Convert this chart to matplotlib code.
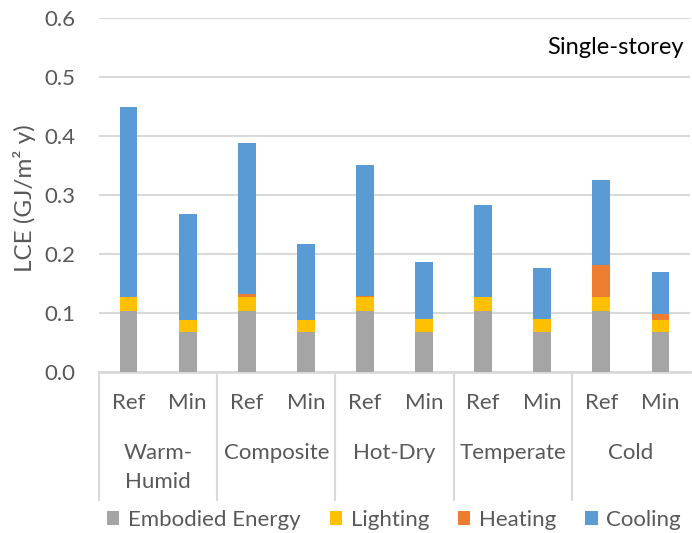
import numpy as np
import matplotlib.pyplot as plt
from matplotlib.transforms import blended_transform_factory

plt.rcParams['font.family'] = ['Lato', 'DejaVu Sans']

climates = ['Warm-\nHumid', 'Composite', 'Hot-Dry', 'Temperate', 'Cold']
cases = ['Ref', 'Min']

# values, order: WH Ref, WH Min, Comp Ref, Comp Min, ...
embodied = [0.103, 0.068, 0.103, 0.068, 0.103, 0.068, 0.103, 0.068, 0.103, 0.068]
lighting = [0.024, 0.020, 0.024, 0.020, 0.024, 0.021, 0.024, 0.021, 0.024, 0.020]
heating  = [0.000, 0.000, 0.005, 0.000, 0.002, 0.000, 0.000, 0.000, 0.055, 0.010]
cooling  = [0.322, 0.179, 0.256, 0.129, 0.222, 0.098, 0.156, 0.087, 0.143, 0.071]

series = [('Embodied Energy', embodied, '#A5A5A5'),
          ('Lighting', lighting, '#FFC000'),
          ('Heating', heating, '#ED7D31'),
          ('Cooling', cooling, '#5B9BD5')]

txt = '#595959'
grid = '#D9D9D9'
fs = 16

fig = plt.figure(figsize=(6.92, 5.33), dpi=100)
ax = fig.add_axes([99/692, 161/533, 591/692, 354/533])

x = np.arange(len(embodied)) + 0.5
bottom = np.zeros(len(x))
for name, vals, col in series:
    ax.bar(x, vals, 0.3, bottom=bottom, color=col, label=name, zorder=3)
    bottom += np.array(vals)

ax.set_xlim(0, 10)
ax.set_ylim(0, 0.6)
ax.set_yticks(np.arange(0, 0.61, 0.1))
ax.set_yticklabels(['%.1f' % v for v in np.arange(0, 0.61, 0.1)])
ax.yaxis.grid(True, color=grid, linewidth=1.5, zorder=0)
ax.tick_params(axis='y', length=0, pad=17, labelsize=fs, labelcolor=txt)
ax.set_xticks([])
for s in ['top', 'right', 'left']:
    ax.spines[s].set_visible(False)
ax.spines['bottom'].set_color(grid)
ax.spines['bottom'].set_linewidth(2)

fig.text(25/692, 1 - 198/533, 'LCE (GJ/m² y)', rotation=90, ha='center',
         va='center', fontsize=17.5, color=txt)

tr = blended_transform_factory(ax.transData, ax.transAxes)
for i, xi in enumerate(x):
    ax.text(xi, -0.088, cases[i % 2], transform=tr, ha='center', va='center',
            fontsize=fs, color=txt)
for g, name in enumerate(climates):
    ax.text(2 * g + 1, -0.2, name, transform=tr, ha='center', va='top',
            fontsize=fs, color=txt, linespacing=1.6)
for d in range(0, 10, 2):
    ax.plot([d, d], [0, -0.362], transform=tr, color=grid, linewidth=1.5,
            clip_on=False)

fig.text(684/692, 1 - 48/533, 'Single-storey', ha='right', va='center',
         fontsize=17, color='black')

fig.legend(loc='center left', bbox_to_anchor=(96/692, 13/533), ncol=4,
           frameon=False, borderpad=0, fontsize=16, labelcolor=txt,
           handlelength=0.55, handleheight=0.55, handletextpad=0.4,
           columnspacing=1.3)

fig.savefig('out.png', dpi=100)
